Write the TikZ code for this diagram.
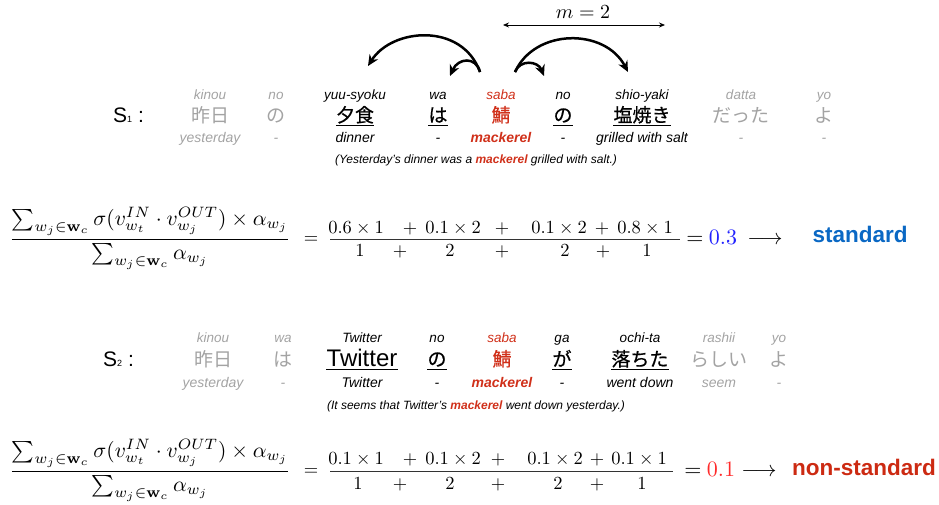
\documentclass[tikz,border=0pt]{standalone}
\usepackage[no-math]{fontspec}
\newfontfamily\ar{Liberation Sans}
\newfontfamily\jp{Noto Sans CJK JP}[FakeBold=0.7]
\newfontfamily\jpl{Noto Sans CJK JP}
\usetikzlibrary{arrows.meta}
\definecolor{lg}{HTML}{A3A3A3}
\definecolor{mk}{HTML}{D0301A}
\definecolor{stdblue}{HTML}{0A68C4}
\definecolor{nsred}{HTML}{CC2A12}
\definecolor{valblue}{HTML}{2222FF}
\definecolor{valred}{HTML}{FF2A2A}
\newcommand\mx[1]{\scalebox{1.85}{$#1$}}
\newcommand\mxl[1]{\scalebox{2.2}{$#1$}}
\newcommand\mxf[1]{\scalebox{2.15}{$#1$}}
\newcommand\wcol[6]{%
  \node[rom,text=#3] (#1r) at (#2,\ry) {#4};
  \node[kan,text=#3] (#1k) at (#2,\ky) {#5};
  \node[glo,text=#3] (#1g) at (#2,\gy) {#6};}
\newcommand\wcolg[5]{%
  \node[rom,text=lg] (#1r) at (#2,\ry) {#3};
  \node[kanl,text=lg] (#1k) at (#2,\ky) {#4};
  \node[glo,text=lg] (#1g) at (#2,\gy) {#5};}
\newcommand\ulin[1]{\draw[ulst] ([yshift=-3pt]#1k.base west) -- ([yshift=-3pt]#1k.base east);}
\newcommand\lfrac{\displaystyle\frac{\sum_{w_j\in\mathbf{w}_c}\sigma(v_{w_t}^{IN}\cdot v_{w_j}^{OUT})\times\alpha_{w_j}}{\sum_{w_j\in\mathbf{w}_c}\alpha_{w_j}}}
\begin{document}
\begin{tikzpicture}[x=1pt,y=-1pt,
  rom/.style={font=\ar\itshape\fontsize{13.5}{14}\selectfont, anchor=base, inner sep=0},
  kan/.style={font=\jp\fontsize{19}{20}\selectfont, anchor=base, inner sep=0},
  kanl/.style={font=\jpl\fontsize{19}{20}\selectfont, anchor=base, inner sep=0},
  glo/.style={font=\ar\itshape\fontsize{14}{15}\selectfont, anchor=base, inner sep=0},
  trans/.style={font=\ar\itshape\fontsize{12}{13}\selectfont, anchor=base, inner sep=0},
  slab/.style={font=\ar\fontsize{21}{22}\selectfont, anchor=base west, inner sep=0},
  mth/.style={anchor=base, inner sep=0},
  res/.style={font=\ar\bfseries\fontsize{22.5}{23}\selectfont, anchor=base, inner sep=0},
  ulst/.style={line width=1pt},
  bar/.style={line width=0.8pt, black!80},
  dep/.style={line width=2.5pt, -{Stealth[length=11pt,width=10pt]}},
  span/.style={line width=0.8pt, {Stealth[length=6pt,width=5pt]}-{Stealth[length=6pt,width=5pt]}}]
\useasboundingbox (0,0) rectangle (939,504);

% ---------- sentence 1 ----------
\def\ry{99}\def\ky{122}\def\gy{142}
\node[slab] (s1) at (113,122) {S{\fontsize{9}{9}\selectfont 1}\hspace{6pt}:};
\wcolg{a}{210}{kinou}{昨日}{yesterday}
\wcolg{b}{276}{no}{の}{-}
\wcol{c}{355}{black}{yuu-syoku}{夕食}{dinner}
\wcol{d}{438}{black}{wa}{は}{-}
\wcol{e}{501}{mk}{saba}{鯖}{\bfseries mackerel}
\wcol{f}{563}{black}{no}{の}{-}
\wcol{g}{642}{black}{shio-yaki}{塩焼き}{grilled with salt}
\wcolg{h}{741}{datta}{だった}{-}
\wcolg{i}{824}{yo}{よ}{-}
\ulin{c}\ulin{d}\ulin{f}\ulin{g}
\node[trans] (t1) at (476,163) {(Yesterday’s dinner was a {\bfseries\color{mk}mackerel} grilled with salt.)};

% dependency arrows
\coordinate (aL) at (480,72);
\coordinate (aR) at (515,72);
\coordinate (tYuu) at (368,66);
\coordinate (tWa) at (450,76);
\coordinate (tNo) at (544,76);
\coordinate (tShio) at (628,72);
\draw[dep] (aL) .. controls (462,22) and (392,28) .. (tYuu);
\draw[dep] (aL) .. controls (476,56) and (458,58) .. (tWa);
\draw[dep] (aR) .. controls (520,59) and (538,61) .. (tNo);
\draw[dep] (aR) .. controls (535,28) and (605,28) .. (tShio);
\coordinate (mL) at (503,25);
\coordinate (mR) at (665,25);
\draw[span] (mL) -- (mR);
\node[mth] (m) at (583,18.5) {\scalebox{2}{$m=2$}};

% ---------- formula 1 ----------
\node[mth] (lf1) at (150,244.4) {\mxf{\lfrac}};
\node[mth] (eq1) at (311,243.6) {\mx{=}};
\draw[bar] (330,239) -- (680,239);
\node[mth] (n11) at (356,233) {\mx{0.6\times1}};
\node[mth] (n12) at (410,233) {\mx{+}};
\node[mth] (n13) at (453,233) {\mx{0.1\times2}};
\node[mth] (n14) at (502,233) {\mx{+}};
\node[mth] (n15) at (559,233) {\mx{0.1\times2}};
\node[mth] (n16) at (602,233) {\mx{+}};
\node[mth] (n17) at (645,233) {\mx{0.8\times1}};
\node[mth] (d11) at (360,256) {\mx{1}};
\node[mth] (d12) at (400,256) {\mx{+}};
\node[mth] (d13) at (450,256) {\mx{2}};
\node[mth] (d14) at (502,256) {\mx{+}};
\node[mth] (d15) at (565,256) {\mx{2}};
\node[mth] (d16) at (603,256) {\mx{+}};
\node[mth] (d17) at (647,256) {\mx{1}};
\node[mth] (eq1b) at (695,244.5) {\mxl{=}};
\node[mth,text=valblue] (v1) at (723,244.5) {\mxl{0.3}};
\node[mth] (ar1) at (765,244.5) {\mxl{\longrightarrow}};
\node[res,text=stdblue] (r1) at (860,242) {standard};

% ---------- sentence 2 ----------
\def\ry{342}\def\ky{366}\def\gy{387}
\node[slab] (s2) at (103,366) {S{\fontsize{9}{9}\selectfont 2}\hspace{6pt}:};
\wcolg{p}{213}{kinou}{昨日}{yesterday}
\wcolg{q}{283}{wa}{は}{-}
\node[rom] (rr) at (362,\ry) {Twitter};
\node[kan,font=\ar\fontsize{24}{25}\selectfont] (rk) at (362,\ky) {Twitter};
\node[glo] (rg) at (362,\gy) {Twitter};
\wcol{s}{437}{black}{no}{の}{-}
\wcol{u}{502}{mk}{saba}{鯖}{\bfseries mackerel}
\wcol{v}{562}{black}{ga}{が}{-}
\wcol{w}{640}{black}{ochi-ta}{落ちた}{went down}
\wcolg{x}{719}{rashii}{らしい}{seem}
\wcolg{y}{779}{yo}{よ}{-}
\ulin{r}\ulin{s}\ulin{v}\ulin{w}
\node[trans] (t2) at (476,409) {(It seems that Twitter’s {\bfseries\color{mk}mackerel} went down yesterday.)};

% ---------- formula 2 ----------
\node[mth] (lf2) at (150,476.4) {\mxf{\lfrac}};
\node[mth] (eq2) at (311,475.6) {\mx{=}};
\draw[bar] (330,471) -- (673,471);
\node[mth] (n21) at (356,464) {\mx{0.1\times1}};
\node[mth] (n22) at (410,464) {\mx{+}};
\node[mth] (n23) at (453,464) {\mx{0.1\times2}};
\node[mth] (n24) at (498,464) {\mx{+}};
\node[mth] (n25) at (555,464) {\mx{0.1\times2}};
\node[mth] (n26) at (597,464) {\mx{+}};
\node[mth] (n27) at (639,464) {\mx{0.1\times1}};
\node[mth] (d21) at (358,489) {\mx{1}};
\node[mth] (d22) at (400,489) {\mx{+}};
\node[mth] (d23) at (450,489) {\mx{2}};
\node[mth] (d24) at (498,489) {\mx{+}};
\node[mth] (d25) at (558,489) {\mx{2}};
\node[mth] (d26) at (597,489) {\mx{+}};
\node[mth] (d27) at (642,489) {\mx{1}};
\node[mth] (eq2b) at (693,476.5) {\mxl{=}};
\node[mth,text=valred] (v2) at (721,476.5) {\mxl{0.1}};
\node[mth] (ar2) at (759,476.5) {\mxl{\longrightarrow}};
\node[res,text=nsred] (r2) at (864,475) {non-standard};
\end{tikzpicture}
\end{document}
